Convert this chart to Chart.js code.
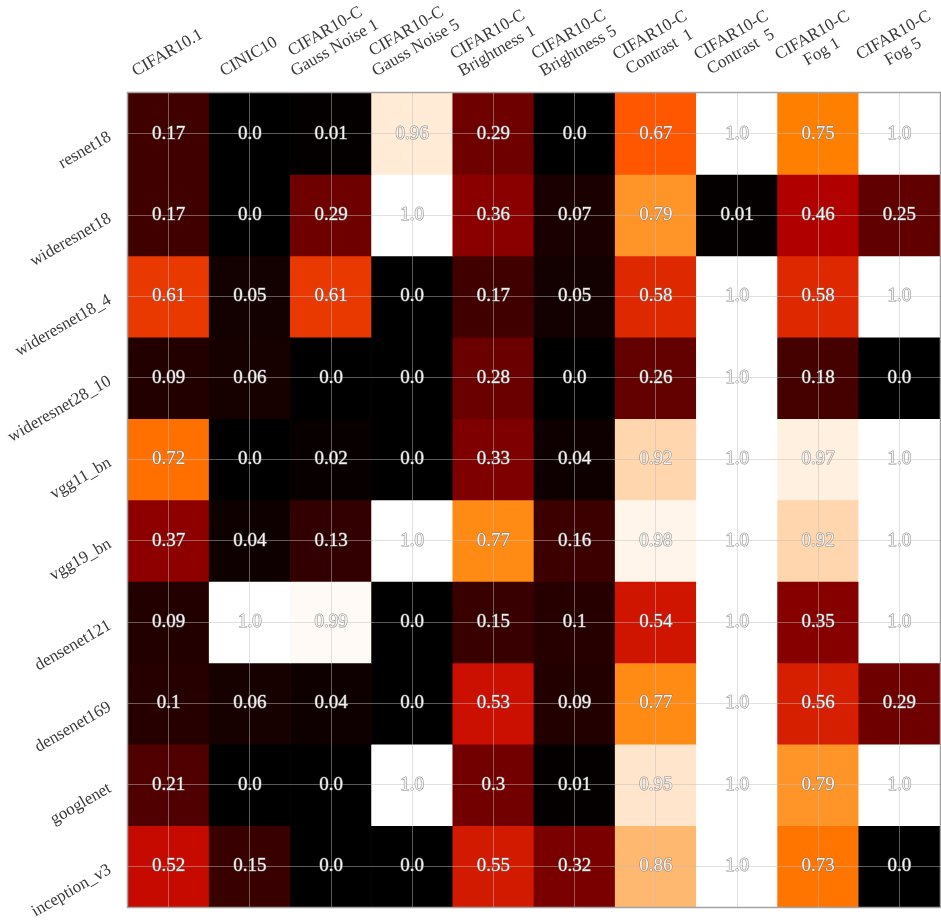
<!DOCTYPE html>
<html>
<head>
<meta charset="utf-8">
<script src="https://cdn.jsdelivr.net/npm/chart.js@4.4.1/dist/chart.umd.min.js"></script>
<style>
  html, body { margin: 0; padding: 0; background: #ffffff; }
  #wrap { width: 941px; height: 922px; position: relative; }
</style>
</head>
<body>
<div id="wrap"><canvas id="heat"></canvas></div>
<script>
// Evaluation sets (columns); each entry is the list of lines of its label.
const testSets = [
  ['CIFAR10.1'],
  ['CINIC10'],
  ['CIFAR10-C', 'Gauss Noise 1'],
  ['CIFAR10-C', 'Gauss Noise 5'],
  ['CIFAR10-C', 'Brightness 1'],
  ['CIFAR10-C', 'Brightness 5'],
  ['CIFAR10-C', 'Contrast  1'],
  ['CIFAR10-C', 'Contrast  5'],
  ['CIFAR10-C', 'Fog 1'],
  ['CIFAR10-C', 'Fog 5']
];

// Architectures (rows), top to bottom.
const models = [
  'resnet18', 'wideresnet18', 'wideresnet18_4', 'wideresnet28_10', 'vgg11_bn',
  'vgg19_bn', 'densenet121', 'densenet169', 'googlenet', 'inception_v3'
];

// One row of scores per architecture, in column order.
const resnet18        = [0.17, 0.0,  0.01, 0.96, 0.29, 0.0,  0.67, 1.0,  0.75, 1.0];
const wideresnet18    = [0.17, 0.0,  0.29, 1.0,  0.36, 0.07, 0.79, 0.01, 0.46, 0.25];
const wideresnet18_4  = [0.61, 0.05, 0.61, 0.0,  0.17, 0.05, 0.58, 1.0,  0.58, 1.0];
const wideresnet28_10 = [0.09, 0.06, 0.0,  0.0,  0.28, 0.0,  0.26, 1.0,  0.18, 0.0];
const vgg11_bn        = [0.72, 0.0,  0.02, 0.0,  0.33, 0.04, 0.92, 1.0,  0.97, 1.0];
const vgg19_bn        = [0.37, 0.04, 0.13, 1.0,  0.77, 0.16, 0.98, 1.0,  0.92, 1.0];
const densenet121     = [0.09, 1.0,  0.99, 0.0,  0.15, 0.1,  0.54, 1.0,  0.35, 1.0];
const densenet169     = [0.1,  0.06, 0.04, 0.0,  0.53, 0.09, 0.77, 1.0,  0.56, 0.29];
const googlenet       = [0.21, 0.0,  0.0,  1.0,  0.3,  0.01, 0.95, 1.0,  0.79, 1.0];
const inception_v3    = [0.52, 0.15, 0.0,  0.0,  0.55, 0.32, 0.86, 1.0,  0.73, 0.0];

const scoreRows = [resnet18, wideresnet18, wideresnet18_4, wideresnet28_10, vgg11_bn,
                   vgg19_bn, densenet121, densenet169, googlenet, inception_v3];

// "gist_heat" colour map on [0, 1].
function gistHeat(v) {
  const c = x => Math.round(255 * Math.min(1, Math.max(0, x)));
  return `rgb(${c(1.5 * v)},${c(2 * v - 1)},${c(4 * v - 3)})`;
}

function fmt(v) {
  return Number.isInteger(v) ? v.toFixed(1) : String(v);
}

const SERIF = '"Liberation Serif", "DejaVu Serif", serif';
const GRID = 'rgba(191,191,191,0.47)';

// Each row is one stacked band of unit-height cells.
const datasets = scoreRows.map((row, r) => ({
  label: models[r],
  data: row.map(() => 1),
  scores: row,
  backgroundColor: ctx => gistHeat(row[ctx.dataIndex]),
  borderWidth: 0,
  barPercentage: 1,
  categoryPercentage: 1
}));

// Draws a (possibly multi-line) rotated label so that its bounding box
// is positioned relative to the given anchor.
function rotatedBlock(ctx, lines, angle, fs, lineH, place) {
  ctx.font = `${fs}px ${SERIF}`;
  const w = Math.max(...lines.map(l => ctx.measureText(l).width));
  const h = (lines.length - 1) * lineH + 0.72 * fs;
  const ca = Math.abs(Math.cos(angle)), sa = Math.abs(Math.sin(angle));
  const ex = (w / 2) * ca + (h / 2) * sa;
  const ey = (w / 2) * sa + (h / 2) * ca;
  const [cx, cy] = place(ex, ey);
  ctx.save();
  ctx.translate(cx, cy);
  ctx.rotate(angle);
  ctx.textAlign = 'center';
  ctx.textBaseline = 'middle';
  ctx.fillStyle = '#3a3a3a';
  lines.forEach((l, i) => {
    ctx.fillText(l, 0, (i - (lines.length - 1) / 2) * lineH);
  });
  ctx.restore();
}

const heatDecor = {
  id: 'heatDecor',
  afterDraw(chart) {
    const ctx = chart.ctx;
    const area = chart.chartArea;
    const xs = chart.scales.x, ys = chart.scales.y;

    // cell values: light glyphs with a thin grey outline
    ctx.save();
    ctx.font = `19px ${SERIF}`;
    ctx.textAlign = 'center';
    ctx.textBaseline = 'middle';
    ctx.lineJoin = 'round';
    chart.data.datasets.forEach((ds, r) => {
      chart.getDatasetMeta(r).data.forEach((el, c) => {
        const t = fmt(ds.scores[c]);
        const y = (el.y + el.base) / 2;
        ctx.lineWidth = 1.1;
        ctx.strokeStyle = 'rgba(125,125,125,0.85)';
        ctx.strokeText(t, el.x, y);
        ctx.fillStyle = '#f2f2f2';
        ctx.fillText(t, el.x, y);
      });
    });
    ctx.restore();

    // frame
    ctx.save();
    ctx.strokeStyle = '#a3a3a3';
    ctx.lineWidth = 1.5;
    ctx.strokeRect(area.left - 0.5, area.top - 0.5, area.right - area.left + 1, area.bottom - area.top + 1);
    ctx.restore();

    const ang = -Math.PI / 6;
    // column labels above the grid
    testSets.forEach((lines, i) => {
      const x = xs.getPixelForValue(i);
      rotatedBlock(ctx, lines, ang, 17, 19, (ex, ey) => [x - 1, area.top - 15 - ey]);
    });
    // row labels left of the grid
    models.forEach((m, i) => {
      const y = ys.getPixelForValue(i + 0.5);
      rotatedBlock(ctx, [m], ang, 17, 19, (ex, ey) => [area.left - 15 - ex, y - 3 + ey]);
    });
  }
};

new Chart(document.getElementById('heat'), {
  type: 'bar',
  data: { labels: testSets.map(l => l.join(' ')), datasets },
  options: {
    responsive: true,
    maintainAspectRatio: false,
    animation: false,
    layout: { padding: { left: 128, top: 93, right: 1, bottom: 15 } },
    plugins: { legend: { display: false }, tooltip: { enabled: false } },
    scales: {
      x: {
        type: 'category',
        stacked: true,
        offset: true,
        grid: { offset: false, color: GRID, lineWidth: 1, drawTicks: false, z: 1 },
        border: { display: false },
        ticks: { display: false }
      },
      y: {
        type: 'linear',
        stacked: true,
        min: 0,
        max: models.length,
        reverse: true,
        afterBuildTicks: s => { s.ticks = models.map((_, i) => ({ value: i + 0.5 })); },
        grid: { color: GRID, lineWidth: 1, drawTicks: false, z: 1 },
        border: { display: false },
        ticks: { display: false }
      }
    }
  },
  plugins: [heatDecor]
});
</script>
</body>
</html>
